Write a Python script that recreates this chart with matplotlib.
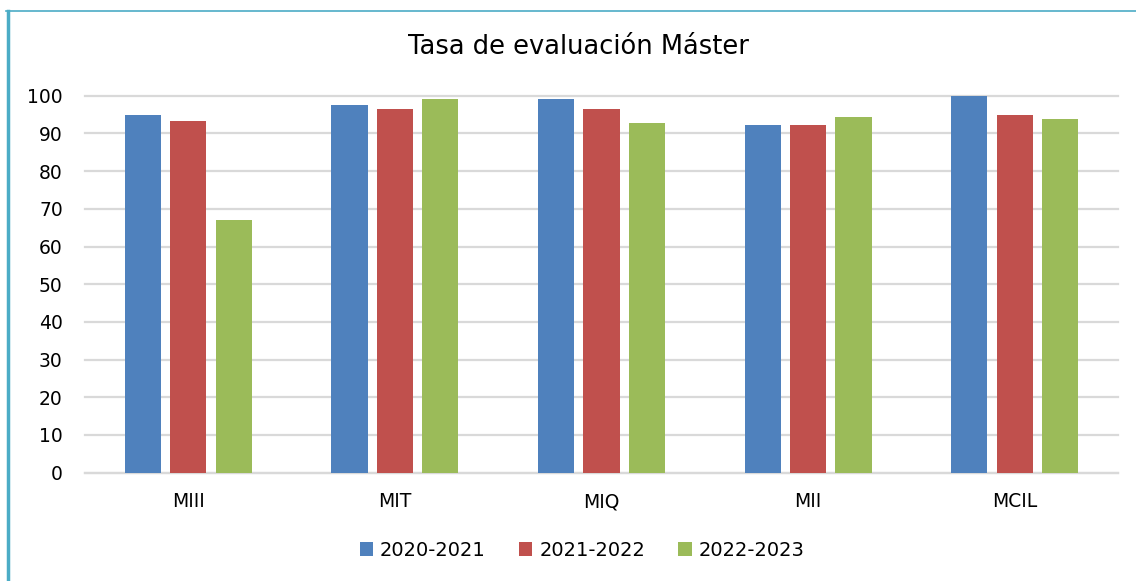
import numpy as np
import matplotlib.pyplot as plt
from matplotlib.lines import Line2D

categories = ['MIII', 'MIT', 'MIQ', 'MII', 'MCIL']
series = ['2020-2021', '2021-2022', '2022-2023']
v2021 = [95.0, 97.5, 99.1, 92.2, 100.0]
v2122 = [93.3, 96.5, 96.5, 92.2, 94.9]
v2223 = [67.0, 99.1, 92.8, 94.3, 93.8]
colors = ['#4F81BD', '#C0504D', '#9BBB59']

plt.rcParams['font.family'] = ['DejaVu Sans']

W, H = 1136, 581
fig = plt.figure(figsize=(W / 100, H / 100), dpi=100)
ax = fig.add_axes([85 / W, (H - 472.7) / H, (1118 - 85) / W, (472.7 - 95.7) / H])

x = np.arange(len(categories))
width = 0.175
offs = [-0.22, 0.0, 0.22]
for vals, off, col, lab in zip([v2021, v2122, v2223], offs, colors, series):
    ax.bar(x + off, vals, width, color=col, label=lab, zorder=3)

ax.set_xlim(-0.5, len(categories) - 0.5)
ax.set_ylim(0, 100)
ax.set_yticks(range(0, 101, 10))
ax.set_xticks(x)
ax.set_xticklabels(categories)
ax.yaxis.grid(True, color='#D9D9D9', linewidth=1.6, zorder=0)
ax.set_axisbelow(True)
for gl in ax.get_ygridlines():
    gl.set_clip_on(False)
for s in ['top', 'right', 'left']:
    ax.spines[s].set_visible(False)
ax.spines['bottom'].set_color('#D9D9D9')
ax.spines['bottom'].set_linewidth(1.6)
ax.tick_params(axis='y', length=0, pad=16, labelsize=13.5)
ax.tick_params(axis='x', length=0, pad=14, labelsize=13.5)

fig.text(578 / W, 1 - 47 / H, 'Tasa de evaluación Máster', ha='center', va='center',
         fontsize=18.5)

fig.legend(loc='center', bbox_to_anchor=(582 / W, 1 - 550 / H), ncol=3, frameon=False,
           fontsize=14, handlelength=0.7, handleheight=0.7, handletextpad=0.35,
           columnspacing=1.7)

# frame border
fig.add_artist(Line2D([7.5 / W, 7.5 / W], [0, 1 - 11 / H], transform=fig.transFigure,
                      color='#4BACC6', linewidth=2.5))
fig.add_artist(Line2D([6 / W, 1], [1 - 11 / H, 1 - 11 / H], transform=fig.transFigure,
                      color='#4BACC6', linewidth=1.2))

fig.savefig('out.png', dpi=100)
